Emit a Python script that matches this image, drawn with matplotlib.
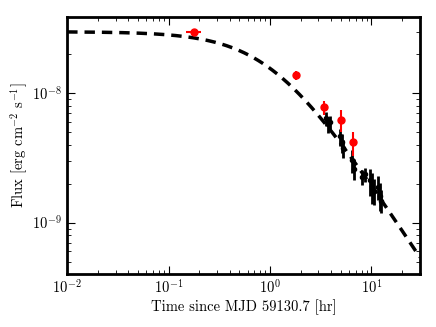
import numpy as np
import matplotlib
matplotlib.use("Agg")
import matplotlib.pyplot as plt

plt.rcParams['font.family'] = 'serif'
plt.rcParams['font.serif'] = ['cmr10']
plt.rcParams['mathtext.fontset'] = 'cm'
plt.rcParams['axes.formatter.use_mathtext'] = True
plt.rcParams['axes.unicode_minus'] = False

# red points
t_red = [0.18, 1.81, 3.43, 5.05, 6.62]
t_red_err = [0.03, 0.0, 0.0, 0.0, 0.0]
f_red = [2.97e-8, 1.38e-8, 7.8e-9, 6.2e-9, 4.17e-9]
f_red_err = [1.0e-9, 1.2e-9, 1.0e-9, 1.2e-9, 0.9e-9]

# black points
t_blk = [3.58, 3.75, 3.93, 4.93, 5.16, 5.28, 6.49, 6.79, 8.14, 8.72,
         9.78, 10.2, 10.5, 11.5, 12.0, 12.3]
f_blk = [6.40e-9, 5.75e-9, 5.96e-9, 4.64e-9, 4.17e-9, 3.75e-9, 3.03e-9, 2.62e-9,
         2.27e-9, 2.36e-9, 2.12e-9, 1.90e-9, 1.77e-9, 1.90e-9, 1.62e-9, 1.48e-9]
f_blk_err = [0.8e-9, 0.8e-9, 0.7e-9, 0.7e-9, 0.7e-9, 0.6e-9, 0.6e-9, 0.5e-9,
             0.3e-9, 0.3e-9, 0.5e-9, 0.5e-9, 0.4e-9, 0.4e-9, 0.4e-9, 0.3e-9]

# model: F0 / (1 + (t/tb)^a)
F0 = 3.0e-8
tb = 1.07
alpha = 1.2

fig = plt.figure(figsize=(4.36, 3.27), dpi=100)
ax = fig.add_axes([0.154, 0.162, 0.809, 0.786])

t = np.logspace(-2, np.log10(30), 300)
ax.plot(t, F0 / (1 + (t / tb) ** alpha), 'k--', lw=2.5, dashes=(3, 2))

ax.errorbar(t_blk, f_blk, yerr=f_blk_err, fmt='o', color='k', ms=3,
            elinewidth=2, capsize=0, zorder=3)
ax.errorbar(t_red, f_red, yerr=f_red_err, xerr=t_red_err, fmt='o', color='red',
            ms=5, elinewidth=1.5, capsize=0, zorder=4)

ax.set_xscale('log')
ax.set_yscale('log')
ax.set_xlim(1e-2, 30)
ax.set_ylim(4e-10, 3.9e-8)
ax.set_xlabel('Time since MJD 59130.7 [hr]', fontsize=10.5, labelpad=2)
ax.set_ylabel(r'Flux [erg cm$^{-2}$ s$^{-1}$]', fontsize=10.5, labelpad=2)
ax.tick_params(which='both', direction='in', top=True, right=True, labelsize=10.5)
ax.tick_params(which='major', length=6)
ax.tick_params(which='minor', length=3)
for s in ax.spines.values():
    s.set_linewidth(2)

fig.savefig('out.png', dpi=100)
